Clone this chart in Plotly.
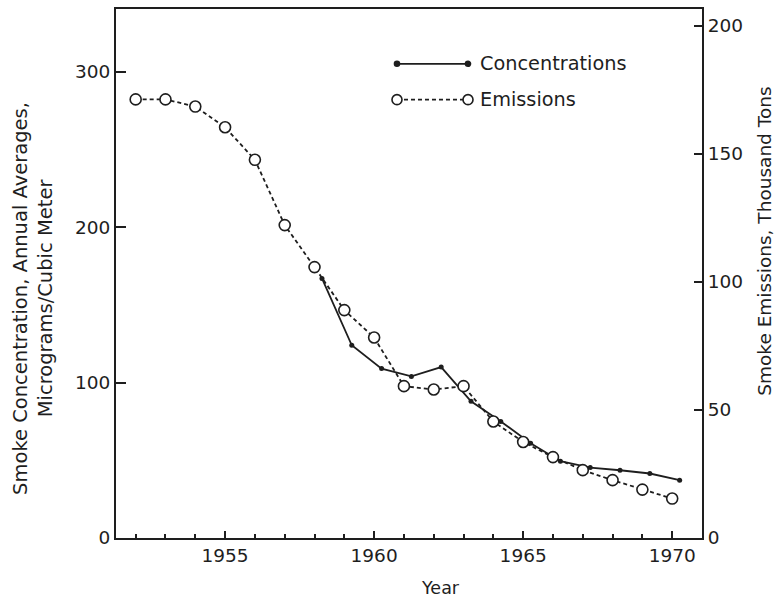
import plotly.graph_objects as go

# ---- data ----
emission_years = [1952, 1953, 1954, 1955, 1956, 1957, 1958, 1959, 1960, 1961,
                  1962, 1963, 1964, 1965, 1966, 1967, 1968, 1969, 1970]
emissions = [171.3, 171.3, 168.5, 160.4, 147.7, 122.2, 105.8, 89.0, 78.3, 59.3,
             58.0, 59.3, 45.5, 37.5, 31.6, 26.5, 22.6, 18.9, 15.4]

conc_years = [1958.25, 1959.25, 1960.25, 1961.25, 1962.25, 1963.25, 1964.25,
              1965.25, 1966.25, 1967.25, 1968.25, 1969.25, 1970.25]
concentrations = [167, 124, 109, 104, 110, 88, 75, 61, 49.4, 45.3, 43.6, 41.5, 37.2]

x_major_ticks = [1955, 1960, 1965, 1970]
x_minor_ticks = list(range(1952, 1971))
left_ticks = [0, 100, 200, 300]
right_ticks = [0, 50, 100, 150, 200]

INK = "#1e1e1e"
FONT = "DejaVu Sans"

fig = go.Figure()

fig.add_trace(go.Scatter(
    x=conc_years, y=concentrations, name="Concentrations", mode="lines+markers",
    line=dict(color=INK, width=1.8),
    marker=dict(symbol="circle", size=5, color=INK),
    yaxis="y", showlegend=False))

fig.add_trace(go.Scatter(
    x=emission_years, y=emissions, name="Emissions", mode="lines+markers",
    line=dict(color=INK, width=1.8, dash="4px,3px"),
    marker=dict(symbol="circle", size=11, color="white", line=dict(color=INK, width=1.6)),
    yaxis="y2", showlegend=False))

axis_common = dict(showgrid=False, zeroline=False, showline=True, linecolor=INK,
                   linewidth=2, tickcolor=INK,
                   tickfont=dict(family=FONT, size=18.5, color=INK))

fig.update_layout(
    width=776, height=600,
    margin=dict(l=116, r=74, t=7, b=62),
    paper_bgcolor="white", plot_bgcolor="white",
    font=dict(family=FONT, color=INK),
    xaxis=dict(range=[1951.34, 1971.0], tickvals=x_major_ticks,
               ticks="inside", ticklen=7, tickwidth=1.5, mirror=True,
               minor=dict(tickvals=x_minor_ticks, ticks="inside", ticklen=4,
                          tickwidth=1.5, tickcolor=INK),
               **axis_common),
    yaxis=dict(range=[0, 340.4], tickvals=left_ticks, ticks="inside",
               ticklen=10, tickwidth=1.5, mirror=True, **axis_common),
    yaxis2=dict(range=[0, 206.6], tickvals=right_ticks, ticks="inside",
                ticklen=8, tickwidth=1.5, overlaying="y", side="right",
                **axis_common),
)

# axis titles
fig.add_annotation(text="Smoke Concentration, Annual Averages,<br>Micrograms/Cubic Meter",
                   xref="paper", yref="paper", x=0, y=0.452, xshift=-83,
                   textangle=-90, showarrow=False, xanchor="center", yanchor="middle",
                   font=dict(family=FONT, size=19.5, color=INK))
fig.add_annotation(text="Smoke Emissions, Thousand Tons",
                   xref="paper", yref="paper", x=1, y=0.56, xshift=63,
                   textangle=-90, showarrow=False, xanchor="center", yanchor="middle",
                   font=dict(family=FONT, size=18.5, color=INK))
fig.add_annotation(text="Year", xref="paper", yref="paper", x=0.553, y=0, yshift=-50,
                   showarrow=False, xanchor="center", yanchor="middle",
                   font=dict(family=FONT, size=17.5, color=INK))

# custom legend (decoration)
lx0, lx1, ltx = 0.4795, 0.6007, 0.6177
for yy, label, dash, filled in [(0.8964, "Concentrations", "solid", True),
                                (0.8286, "Emissions", "4px,3px", False)]:
    fig.add_shape(type="line", xref="paper", yref="paper", x0=lx0, x1=lx1, y0=yy, y1=yy,
                  line=dict(color=INK, width=1.8, dash=dash))
    r = 2.5 if filled else 5
    for xx in (lx0, lx1):
        fig.add_shape(type="circle", xref="paper", yref="paper",
                      xsizemode="pixel", ysizemode="pixel", xanchor=xx, yanchor=yy,
                      x0=-r, x1=r, y0=-r, y1=r,
                      fillcolor=INK if filled else "white",
                      line=dict(color=INK, width=1.6))
    fig.add_annotation(text=label, xref="paper", yref="paper", x=ltx, y=yy,
                       showarrow=False, xanchor="left", yanchor="middle",
                       font=dict(family=FONT, size=19.3, color=INK))

fig.write_html("out.html")
